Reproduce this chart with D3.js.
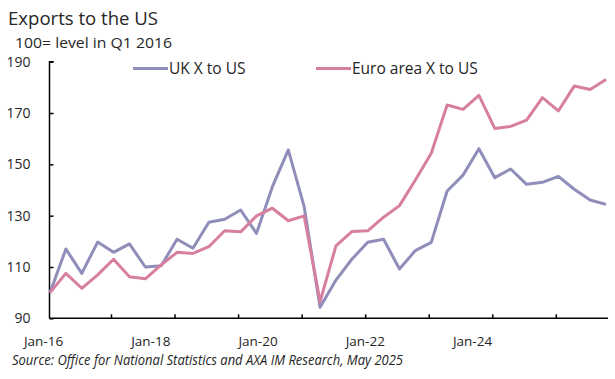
<!DOCTYPE html>
<html>
<head>
<meta charset="utf-8">
<script src="https://cdn.jsdelivr.net/npm/d3@7"></script>
<style>
  html, body { margin: 0; padding: 0; background: #fff; }
  svg { display: block; font-family: "Open Sans", "Liberation Sans", sans-serif; }
</style>
</head>
<body>
<svg id="chart" width="615" height="379"></svg>
<script>
// Quarterly data, Q1 2016 .. Q4 2024 (index 100 = Q1 2016)
const quarters = d3.range(36).map(i => ({ year: 2016 + Math.floor(i / 4), q: (i % 4) + 1 }));
const ukValues = [100, 117, 107.5, 119.7, 115.7, 119, 110, 110.5, 120.8, 117.3, 127.4, 128.6,
                  132.2, 123.1, 141.3, 155.6, 133.5, 94.3, 104.9, 113, 119.6, 120.8, 109.2, 116.4,
                  119.6, 139.6, 145.8, 156.1, 144.8, 148.2, 142.2, 143, 145.3, 140.3, 136.1, 134.4];
const euroValues = [100, 107.5, 101.7, 106.9, 113, 106.2, 105.4, 110.8, 115.7, 115.3, 117.9, 124.1,
                    123.7, 129.9, 132.9, 128, 129.9, 96.5, 118.2, 123.8, 124.1, 129.4, 133.9, 143.9,
                    154.3, 173.1, 171.4, 176.9, 164, 164.8, 167.2, 176, 170.8, 180.5, 179.2, 183.1];
const seriesNames = ["UK X to US", "Euro area X to US"];
const seriesColors = ["#8f8db9", "#d77f9f"];
const yTicks = [90, 110, 130, 150, 170, 190];
const xLabels = ["Jan-16", "Jan-18", "Jan-20", "Jan-22", "Jan-24"];
const title = "Exports to the US";
const subtitle = "100= level in Q1 2016";
const source = "Source: Office for National Statistics and AXA IM Research, May 2025";

const svg = d3.select("#chart");
const x = d3.scaleLinear().domain([0, quarters.length - 1]).range([50, 606]);
const y = d3.scaleLinear().domain([90, 190]).range([318.3, 61.7]);
const xLab = d3.scalePoint().domain(xLabels).range([43, 472]);

// Title & subtitle
svg.append("text").attr("x", 8).attr("y", 25).attr("font-size", 19).attr("fill", "#262626")
  .attr("textLength", 150).attr("lengthAdjust", "spacingAndGlyphs").text(title);
svg.append("text").attr("x", 15).attr("y", 48).attr("font-size", 14).attr("fill", "#262626")
  .attr("textLength", 157).attr("lengthAdjust", "spacingAndGlyphs").text(subtitle);

// Y axis
const yAxis = d3.axisRight(y).tickValues(yTicks).tickSize(4).tickFormat(d3.format("d"));
const gy = svg.append("g").attr("transform", "translate(49.5,0)").call(yAxis);
gy.select(".domain").attr("stroke", "#000").attr("stroke-width", 1.5).attr("d", `M4,${y(190)}H0V${y(90)}`);
gy.selectAll(".tick line").attr("stroke", "#000").attr("stroke-width", 1.5);
gy.selectAll(".tick text").attr("x", -19).attr("text-anchor", "end").attr("font-size", 14)
  .attr("fill", "#262626").attr("font-family", "'Open Sans', sans-serif");

// X axis (yearly ticks)
const yearTicks = d3.range(4, 36, 4).map(i => i - 0.16);
const xAxis = d3.axisTop(x).tickValues(yearTicks).tickSize(4).tickFormat("");
const gx = svg.append("g").attr("transform", `translate(0,${y(90)})`).call(xAxis);
gx.select(".domain").attr("stroke", "#000").attr("stroke-width", 1.5).attr("d", `M49.5,0H608`);
gx.selectAll(".tick line").attr("stroke", "#000").attr("stroke-width", 1.5);

// X labels
const xLabelAxis = d3.axisBottom(xLab).tickSize(0).tickPadding(0);
const gl = svg.append("g").attr("transform", "translate(0,346)").call(xLabelAxis);
gl.select(".domain").remove();
gl.selectAll(".tick text").attr("font-size", 13.5).attr("fill", "#262626").attr("dy", 0).attr("y", 0)
  .attr("font-family", "'Open Sans', sans-serif");

// Lines
const line = d3.line().x((d, i) => x(i)).y(d => y(d)).curve(d3.curveLinear);
[ukValues, euroValues].forEach((vals, k) => {
  svg.append("path").datum(vals).attr("fill", "none").attr("stroke", seriesColors[k])
    .attr("stroke-width", 3).attr("stroke-linejoin", "round").attr("d", line);
});

// Legend
const legendX = [133, 316];
seriesNames.forEach((name, k) => {
  const g = svg.append("g").attr("transform", `translate(${legendX[k]},68.5)`);
  g.append("line").attr("x1", 0).attr("x2", 35).attr("stroke", seriesColors[k]).attr("stroke-width", 3);
  g.append("text").attr("x", 36).attr("y", 5.5).attr("font-size", 15.5).attr("fill", "#262626").text(name);
});

// Source
svg.append("text").attr("x", 12).attr("y", 365).attr("font-size", 15).attr("font-style", "italic")
  .attr("fill", "#262626").attr("textLength", 391).attr("lengthAdjust", "spacingAndGlyphs").text(source);
</script>
</body>
</html>
